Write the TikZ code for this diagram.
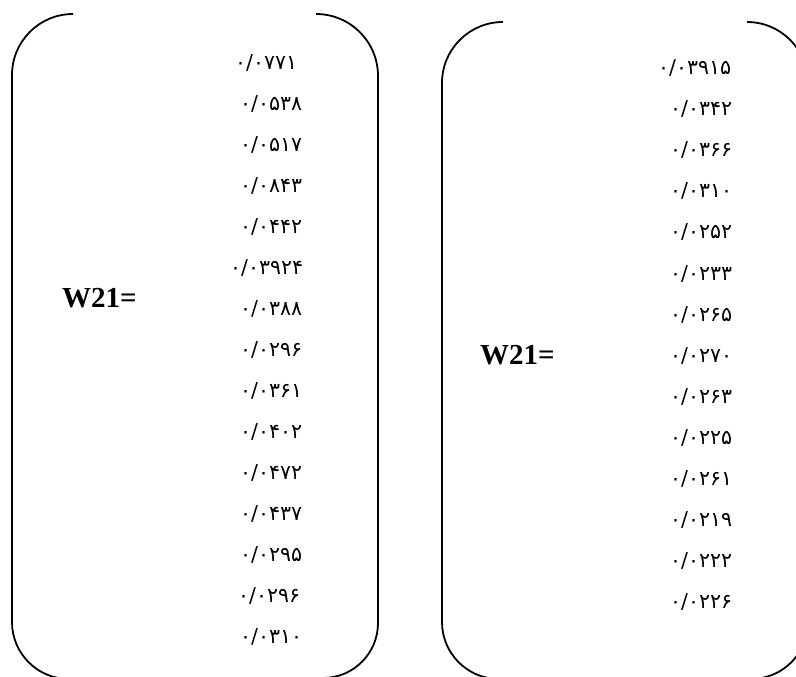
\documentclass[tikz,border=0pt]{standalone}
\usepackage{fontspec}
\setmainfont{Liberation Serif}
\newfontfamily\fanum[Script=Arabic]{DejaVu Sans}
\tikzset{
  bracketline/.style={line width=1.8pt, black},
  numtxt/.style={anchor=west, inner sep=0pt, font=\fanum\fontsize{20.5}{22}\selectfont},
  wlabel/.style={anchor=west, inner sep=0pt, font=\bfseries\fontsize{29}{30}\selectfont}
}
\begin{document}
\begin{tikzpicture}[x=1pt,y=1pt]
\useasboundingbox (0,0) rectangle (796,-677);
% left brackets
\draw[bracketline] (73,-14) arc[start angle=90, end angle=180, radius=61] -- (12,-622) arc[start angle=180, end angle=270, radius=57];
\draw[bracketline] (316,-14) arc[start angle=90, end angle=0, radius=62] -- (378,-623) arc[start angle=0, end angle=-90, radius=55];
% right brackets
\draw[bracketline] (503,-22) arc[start angle=90, end angle=180, radius=61] -- (442,-622) arc[start angle=180, end angle=270, radius=57];
\draw[bracketline] (747,-22) arc[start angle=90, end angle=0, radius=61] -- (808,-622) arc[start angle=0, end angle=-90, radius=57];
% labels
\node[wlabel] (wl) at (62,-298) {W21=};
\node[wlabel] (wr) at (480,-355) {W21=};
% left column
\node[numtxt] (l1) at (235,-63) {۰/۰۷۷۱};
\node[numtxt] (l2) at (240,-104) {۰/۰۵۳۸};
\node[numtxt] (l3) at (240,-145) {۰/۰۵۱۷};
\node[numtxt] (l4) at (240,-186) {۰/۰۸۴۳};
\node[numtxt] (l5) at (240,-227) {۰/۰۴۴۲};
\node[numtxt] (l6) at (230,-268) {۰/۰۳۹۲۴};
\node[numtxt] (l7) at (240,-309) {۰/۰۳۸۸};
\node[numtxt] (l8) at (240,-350) {۰/۰۲۹۶};
\node[numtxt] (l9) at (240,-391) {۰/۰۳۶۱};
\node[numtxt] (l10) at (240,-432) {۰/۰۴۰۲};
\node[numtxt] (l11) at (240,-473) {۰/۰۴۷۲};
\node[numtxt] (l12) at (240,-514) {۰/۰۴۳۷};
\node[numtxt] (l13) at (240,-555) {۰/۰۲۹۵};
\node[numtxt] (l14) at (238,-596) {۰/۰۲۹۶};
\node[numtxt] (l15) at (240,-637) {۰/۰۳۱۰};
% right column
\node[numtxt] (r1) at (658,-68) {۰/۰۳۹۱۵};
\node[numtxt] (r2) at (670,-109) {۰/۰۳۴۲};
\node[numtxt] (r3) at (670,-150) {۰/۰۳۶۶};
\node[numtxt] (r4) at (670,-191) {۰/۰۳۱۰};
\node[numtxt] (r5) at (670,-232) {۰/۰۲۵۲};
\node[numtxt] (r6) at (670,-274) {۰/۰۲۳۳};
\node[numtxt] (r7) at (670,-315) {۰/۰۲۶۵};
\node[numtxt] (r8) at (670,-356) {۰/۰۲۷۰};
\node[numtxt] (r9) at (670,-397) {۰/۰۲۶۳};
\node[numtxt] (r10) at (670,-438) {۰/۰۲۲۵};
\node[numtxt] (r11) at (670,-479) {۰/۰۲۶۱};
\node[numtxt] (r12) at (670,-520) {۰/۰۲۱۹};
\node[numtxt] (r13) at (670,-561) {۰/۰۲۲۲};
\node[numtxt] (r14) at (670,-602) {۰/۰۲۲۶};
\end{tikzpicture}
\end{document}
